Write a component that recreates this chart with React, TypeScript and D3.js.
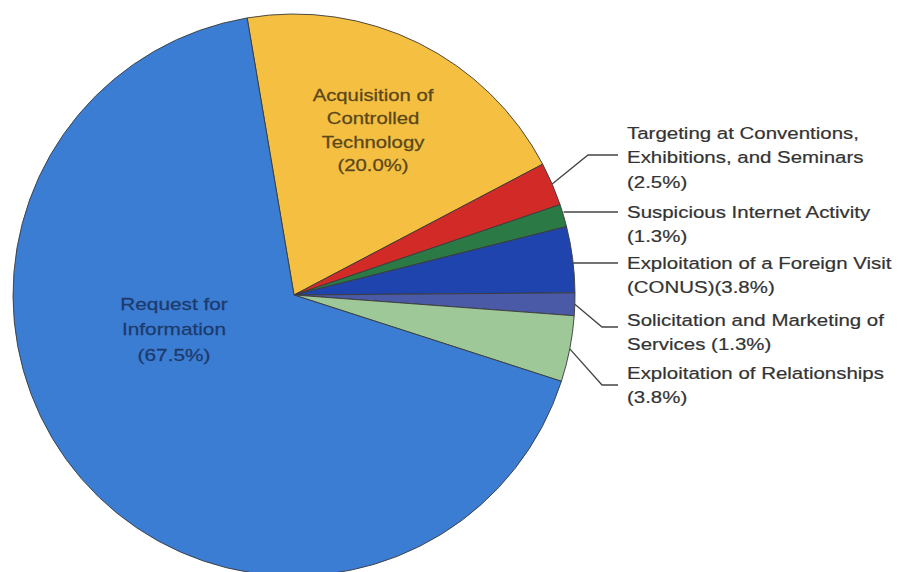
import React from "react";
import * as d3 from "d3";

const categories = [
  "Acquisition of Controlled Technology",
  "Targeting at Conventions, Exhibitions, and Seminars",
  "Suspicious Internet Activity",
  "Exploitation of a Foreign Visit (CONUS)",
  "Solicitation and Marketing of Services",
  "Exploitation of Relationships",
  "Request for Information",
];
const values = [20.0, 2.5, 1.3, 3.8, 1.3, 3.8, 67.5];
const colors = ["#f5c042", "#d22b27", "#2b7a46", "#1f44ad", "#4a5aa6", "#9fc898", "#3b7dd3"];

// label text lines
const labelLines = [
  ["Acquisition of", "Controlled", "Technology", "(20.0%)"],
  ["Targeting at Conventions,", "Exhibitions, and Seminars", "(2.5%)"],
  ["Suspicious Internet Activity", "(1.3%)"],
  ["Exploitation of a Foreign Visit", "(CONUS)(3.8%)"],
  ["Solicitation and Marketing of", "Services (1.3%)"],
  ["Exploitation of Relationships", "(3.8%)"],
  ["Request for", "Information", "(67.5%)"],
];

const W = 898;
const H = 572;
const cx = 294;
const cy = 295;
const R = 281;
const startDeg = -9.6;

// outside label layout: y of the horizontal leader segment and first text line
const outsideIdx = [1, 2, 3, 4, 5];
const leaderY = [155, 212, 263, 327, 385];
const elbowXs = [588, 0, 0, 602, 602];
const textFirstY = [133, 212, 263, 320, 373];
const lineGap = 24.5;
const leaderEndX = 618;
const textX = 627;
const stretch = 1.24;

export default function App() {
  const pie = d3
    .pie<number>()
    .sort(null)
    .startAngle((startDeg * Math.PI) / 180)
    .endAngle((startDeg * Math.PI) / 180 + 2 * Math.PI);
  const arcs = pie(values);
  const arc = d3.arc<d3.PieArcDatum<number>>().innerRadius(0).outerRadius(R);
  const font = "'Liberation Sans', Arial, Helvetica, sans-serif";

  return (
    <svg
      width={W}
      height={H}
      style={{ position: "absolute", left: 0, top: 0, background: "#fff" }}
    >
      <g transform={`translate(${cx},${cy})`}>
        {arcs.map((a, i) => (
          <path
            key={categories[i]}
            d={arc(a) || ""}
            fill={colors[i]}
            stroke="#3a3a3a"
            strokeWidth={0.9}
            strokeLinejoin="round"
          />
        ))}
      </g>
      {/* inside labels */}
      <text
        transform={`translate(373,101) scale(1.27,1)`}
        fontFamily={font}
        fontSize={16}
        fill="#5a471a"
        stroke="#5a471a"
        strokeWidth={0.25}
        textAnchor="middle"
      >
        {labelLines[0].map((t, k) => (
          <tspan key={k} x={0} dy={k === 0 ? 0 : 23.5}>
            {t}
          </tspan>
        ))}
      </text>
      <text
        transform={`translate(174,310) scale(1.3,1)`}
        fontFamily={font}
        fontSize={16}
        fill="#1d3a6c"
        stroke="#1d3a6c"
        strokeWidth={0.25}
        textAnchor="middle"
      >
        {labelLines[6].map((t, k) => (
          <tspan key={k} x={0} dy={k === 0 ? 0 : 25.5}>
            {t}
          </tspan>
        ))}
      </text>
      {/* outside labels with leaders */}
      {outsideIdx.map((idx, j) => {
        const a = arcs[idx];
        const mid = (a.startAngle + a.endAngle) / 2;
        const sx = cx + R * Math.sin(mid);
        const sy = cy - R * Math.cos(mid);
        const ly = leaderY[j];
        const horizontal = Math.abs(ly - sy) < 8;
        const pts = horizontal
          ? [
              [sx, ly],
              [leaderEndX, ly],
            ]
          : [
              [sx, sy],
              [elbowXs[j], ly],
              [leaderEndX, ly],
            ];
        const line = d3.line()(pts as [number, number][]) || "";
        return (
          <g key={categories[idx]}>
            <path d={line} fill="none" stroke="#444" strokeWidth={1.3} />
            <text
              transform={`translate(${textX},${textFirstY[j] + 6}) scale(${stretch},1)`}
              fontFamily={font}
              fontSize={16.5}
              fill="#333"
              stroke="#333"
              strokeWidth={0.2}
            >
              {labelLines[idx].map((t, k) => (
                <tspan key={k} x={0} dy={k === 0 ? 0 : lineGap}>
                  {t}
                </tspan>
              ))}
            </text>
          </g>
        );
      })}
    </svg>
  );
}
